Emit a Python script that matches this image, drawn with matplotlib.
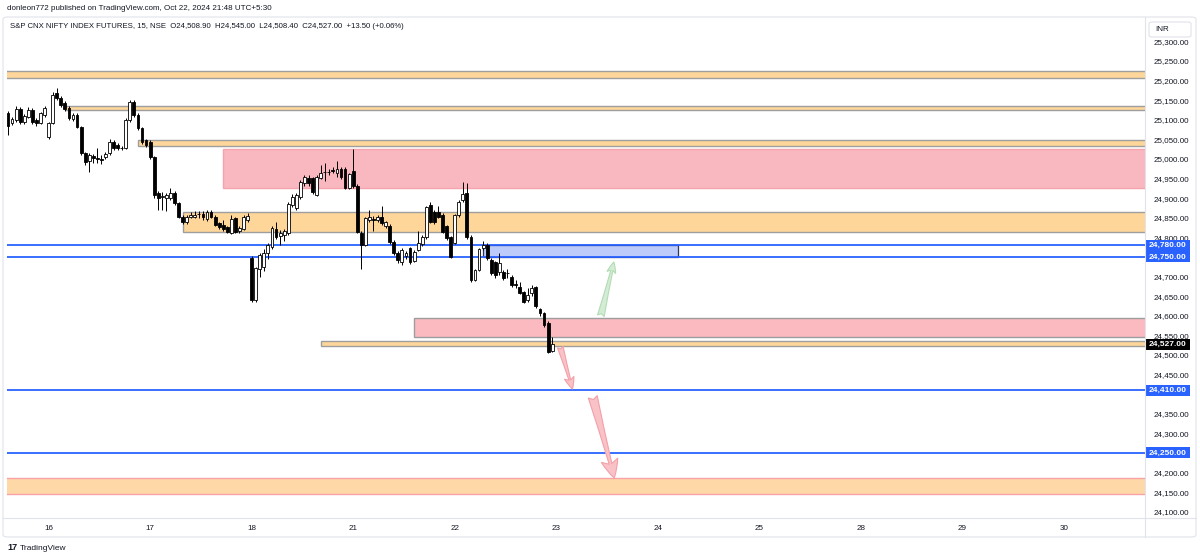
import matplotlib
matplotlib.use("Agg")
import matplotlib.pyplot as plt
from matplotlib.patches import Rectangle, FancyBboxPatch
from matplotlib.lines import Line2D
from matplotlib.ticker import FuncFormatter

plt.rcParams['font.family'] = ['Liberation Sans', 'DejaVu Sans']

# 15 min candles, Oct 15 (last 10 bars) .. Oct 22
opens = [25117, 25092, 25099, 25128, 25094, 25107, 25125, 25100, 25092, 25112,
         25056, 25092, 25168, 25155, 25143, 25130, 25102, 25112, 25082, 25015,
         24995, 25008, 25003, 25000, 25005, 25015, 25043, 25036, 25028, 25028,
         25100, 25145, 25112, 25079, 25048,
         25043, 25005, 24913, 24902, 24900, 24900, 24913, 24887, 24852, 24840,
         24852, 24852, 24860, 24860, 24847, 24865, 24852, 24836, 24832, 24826,
         24811, 24849, 24816, 24822, 24843,
         24747, 24640, 24720, 24725, 24760, 24776, 24822, 24804, 24806, 24811,
         24883, 24875, 24903, 24938, 24951, 24951, 24908, 24952, 24967, 24967,
         24972, 24964, 24975, 24975, 24926,
         24970, 24931, 24811, 24781, 24845, 24847, 24845, 24852, 24830, 24830,
         24788, 24760, 24738, 24752, 24772, 24740, 24768, 24784, 24800, 24883,
         24865, 24865, 24857, 24828, 24800,
         24786, 24857, 24895, 24913, 24801, 24691, 24717, 24773, 24781, 24742,
         24737, 24711, 24712, 24710, 24700, 24680, 24673, 24660, 24640, 24658,
         24673, 24617, 24607, 24582, 24508.9]
highs = [25122, 25108, 25135, 25132, 25115, 25132, 25130, 25104, 25120, 25136,
         25095, 25170, 25182, 25160, 25148, 25134, 25118, 25118, 25085, 25018,
         25014, 25012, 25028, 25010, 25018, 25050, 25048, 25040, 25032, 25105,
         25150, 25150, 25116, 25082, 25052,
         25048, 25008, 24918, 24915, 24912, 24925, 24918, 24890, 24856, 24856,
         24865, 24868, 24868, 24866, 24870, 24870, 24856, 24840, 24845, 24830,
         24858, 24852, 24828, 24856, 24862,
         24752, 24725, 24760, 24770, 24785, 24830, 24840, 24818, 24820, 24890,
         24910, 24912, 24945, 24960, 24960, 24955, 24958, 24985, 24990, 24975,
         24980, 24995, 24980, 24980, 24965,
         25025, 24935, 24815, 24852, 24870, 24855, 24858, 24880, 24842, 24834,
         24792, 24764, 24772, 24764, 24776, 24768, 24815, 24805, 24880, 24890,
         24870, 24880, 24862, 24832, 24804,
         24860, 24895, 24940, 24938, 24805, 24720, 24774, 24790, 24785, 24746,
         24740, 24760, 24716, 24718, 24704, 24690, 24685, 24664, 24670, 24678,
         24676, 24620, 24610, 24586, 24545]
lows = [25062, 25087, 25095, 25090, 25090, 25104, 25090, 25085, 25088, 25108,
        25050, 25088, 25150, 25133, 25122, 25100, 25097, 25078, 25010, 24985,
        24967, 24990, 24990, 24988, 25000, 25010, 25022, 25024, 25022, 25025,
        25095, 25108, 25075, 25038, 25030,
        25000, 24900, 24870, 24870, 24868, 24895, 24882, 24850, 24835, 24835,
        24848, 24848, 24848, 24845, 24842, 24848, 24828, 24822, 24815, 24812,
        24808, 24810, 24812, 24818, 24840,
        24635, 24635, 24700, 24715, 24745, 24770, 24795, 24780, 24790, 24805,
        24878, 24870, 24898, 24930, 24932, 24910, 24905, 24950, 24943, 24960,
        24965, 24955, 24950, 24922, 24922,
        24926, 24810, 24719, 24778, 24840, 24815, 24840, 24832, 24825, 24784,
        24755, 24735, 24730, 24745, 24733, 24736, 24764, 24778, 24796, 24836,
        24835, 24848, 24810, 24794, 24746,
        24782, 24852, 24890, 24796, 24686, 24688, 24714, 24768, 24742, 24704,
        24695, 24705, 24690, 24695, 24674, 24670, 24655, 24632, 24635, 24650,
        24620, 24600, 24570, 24505, 24508.4]
closes = [25085, 25102, 25128, 25094, 25110, 25125, 25094, 25092, 25117, 25130,
          25092, 25163, 25155, 25138, 25128, 25105, 25112, 25082, 25015, 24992,
          25010, 25003, 25000, 24998, 25013, 25043, 25028, 25028, 25027, 25100,
          25145, 25112, 25079, 25043, 25036,
          25005, 24908, 24900, 24905, 24908, 24913, 24887, 24852, 24840, 24852,
          24857, 24857, 24859, 24852, 24865, 24852, 24832, 24826, 24822, 24814,
          24847, 24814, 24823, 24852, 24855,
          24640, 24722, 24755, 24760, 24780, 24824, 24800, 24812, 24815, 24885,
          24903, 24908, 24941, 24954, 24938, 24916, 24954, 24964, 24966, 24966,
          24970, 24975, 24954, 24926, 24962,
          24931, 24814, 24781, 24849, 24852, 24845, 24852, 24836, 24838, 24788,
          24760, 24742, 24768, 24760, 24737, 24763, 24786, 24800, 24877, 24840,
          24840, 24852, 24814, 24798, 24750,
          24857, 24890, 24911, 24801, 24691, 24717, 24770, 24781, 24747, 24709,
          24704, 24734, 24696, 24708, 24679, 24678, 24658, 24635, 24653, 24671,
          24625, 24607, 24577, 24508, 24527]

day_labels = ['16', '17', '18', '21', '22', '23', '24', '25', '28', '29', '30']
first_day_bar = 10
bars_per_day = 25

# drawn zones (price top / bottom, starting bar, kind)
zone_top = [25225, 25136, 25047, 25025, 24865, 24595, 24535, 24185]
zone_bottom = [25206, 25125, 25033, 24926, 24814, 24545, 24523, 24145]
zone_start = [-5, 14, 32, 53, 43, 100, 77, -5]
zone_kind = ['orange', 'orange', 'orange', 'pink', 'orange', 'pink_grey', 'orange', 'orange_red']

level_lines = [24780, 24750, 24410, 24250]
blue_box = (117, 165, 24750, 24780)

arrow_tail = [(146, 24600), (136, 24520), (144, 24393)]
arrow_tip = [(149.2, 24737), (139, 24413), (149.3, 24186)]
arrow_kind = ['up', 'down', 'down_big']

W, H = 1200, 560
fig = plt.figure(figsize=(12, 5.6), dpi=100)
fig.patch.set_facecolor('white')

pane_l, pane_r, pane_t, pane_b = 7, 1145, 17, 518
ax = fig.add_axes([pane_l / W, 1 - pane_b / H, (pane_r - pane_l) / W, (pane_b - pane_t) / H])
ax.set_xlim(-0.25, 280)
ax.set_ylim(24084, 25362)

zone_style = {
    'orange': dict(fc='#ffd699', ec='#9e9e9e'),
    'pink': dict(fc='#f9b8c0', ec='#f5a3ac'),
    'pink_grey': dict(fc='#fbbac0', ec='#9e9e9e'),
    'orange_red': dict(fc='#ffd8a8', ec='#f7a3a8'),
}
for top, bot, start, kind in zip(zone_top, zone_bottom, zone_start, zone_kind):
    st = zone_style[kind]
    ax.add_patch(Rectangle((start, bot), 400, top - bot, facecolor=st['fc'],
                           edgecolor=st['ec'], linewidth=1.0, zorder=1))

x0, x1, b0, b1 = blue_box
ax.add_patch(Rectangle((x0, b0), x1 - x0, b1 - b0, facecolor='#bccbfa',
                       edgecolor='#2a3560', linewidth=0.9, zorder=1.5))

for lvl in level_lines:
    ax.axhline(lvl, color='#2962ff', linewidth=1.3, zorder=2)

# candles
for i, (o, h, l, c) in enumerate(zip(opens, highs, lows, closes)):
    ax.vlines(i, l, h, color='#000000', linewidth=0.7, zorder=3)
    up = c >= o
    body = max(abs(c - o), 1.5)
    ax.bar(i, body, bottom=min(o, c), width=0.7,
           color='white' if up else 'black', edgecolor='black',
           linewidth=0.6, zorder=4)

arrow_color = {
    'up': ('#d4ecd5', '#b2dcb4', 0.55, 0.45, 0.35, 14),
    'down': ('#f9c2c7', '#f3a0a8', 0.6, 0.5, 0.3, 14),
    'down_big': ('#f9c2c7', '#f3a0a8', 0.6, 0.55, 0.3, 22),
}
for tail, tip, kind in zip(arrow_tail, arrow_tip, arrow_kind):
    fc, ec, hl, hw, tw, ms = arrow_color[kind]
    ax.annotate('', xy=tip, xytext=tail,
                arrowprops=dict(arrowstyle=f'fancy,head_length={hl},head_width={hw},tail_width={tw}',
                                mutation_scale=ms, fc=fc, ec=ec, lw=0.8,
                                shrinkA=0, shrinkB=0), zorder=5)

# axes styling
for s in ax.spines.values():
    s.set_visible(False)
ax.yaxis.tick_right()
# ticks hidden under the highlighted labels are left out
tick_vals = [v for v in range(24100, 25301, 50) if v not in (24250, 24750, 24400)]
ax.set_yticks(tick_vals)
ax.yaxis.set_major_formatter(FuncFormatter(lambda v, p: f'{v:,.2f}'))
ax.tick_params(axis='y', length=0, pad=6, labelsize=5.8, labelcolor='#131722')
ax.set_xticks([first_day_bar + k * bars_per_day for k in range(len(day_labels))])
ax.set_xticklabels(day_labels)
ax.tick_params(axis='x', length=0, pad=5, labelsize=5.8, labelcolor='#131722')

# right scale highlighted labels
ytr = ax.get_yaxis_transform()
box_x0 = (1146 - pane_l) / (pane_r - pane_l)
box_w = 44 / (pane_r - pane_l)
box_h = 11 * (25362 - 24084) / (pane_b - pane_t)
tag_levels = level_lines + [closes[-1]]
tag_colors = ['#2962ff'] * len(level_lines) + ['#000000']
for lvl, col in zip(tag_levels, tag_colors):
    ax.add_patch(Rectangle((box_x0, lvl - box_h / 2), box_w, box_h, transform=ytr,
                           facecolor=col, edgecolor='none', clip_on=False, zorder=9))
    ax.text(box_x0 + box_w / 2, lvl, f'{lvl:,.2f}', transform=ytr, ha='center', va='center',
            fontsize=6, color='white', fontweight='bold', zorder=10, clip_on=False)

# frame & separators
fig.patches.append(FancyBboxPatch((3 / W, 1 - 537 / H), 1193 / W, 520 / H,
                                  boxstyle='round,pad=0,rounding_size=0.004',
                                  transform=fig.transFigure, fc='none', ec='#e0e3eb', lw=0.8))
fig.add_artist(Line2D([pane_r / W, pane_r / W], [1 - 17 / H, 1 - 537 / H], color='#e0e3eb', lw=0.8))
fig.add_artist(Line2D([3 / W, 1196 / W], [1 - pane_b / H, 1 - pane_b / H], color='#e0e3eb', lw=0.8))
fig.patches.append(FancyBboxPatch((1149 / W, 1 - 37 / H), 42 / W, 15 / H,
                                  boxstyle='round,pad=0,rounding_size=0.003',
                                  transform=fig.transFigure, fc='white', ec='#e0e3eb', lw=0.8, zorder=11))
fig.text(1155 / W, 1 - 29.5 / H, 'INR', fontsize=5.8, color='#131722', va='center', zorder=12)

fig.text(7 / W, 1 - 8 / H, 'donleon772 published on TradingView.com, Oct 22, 2024 21:48 UTC+5:30',
         fontsize=5.8, color='#131722', va='center')
fig.text(10 / W, 1 - 27 / H,
         'S&P CNX NIFTY INDEX FUTURES, 15, NSE  O24,508.90  H24,545.00  L24,508.40  C24,527.00  +13.50 (+0.06%)',
         fontsize=5.6, color='#131722', va='center')
fig.text(7 / W, 1 - 548 / H, '17', fontsize=6.5, fontweight='bold', color='#131722', va='center')
fig.text(20 / W, 1 - 548 / H, 'TradingView', fontsize=6, color='#131722', va='center')

fig.savefig('out.png', dpi=100)
